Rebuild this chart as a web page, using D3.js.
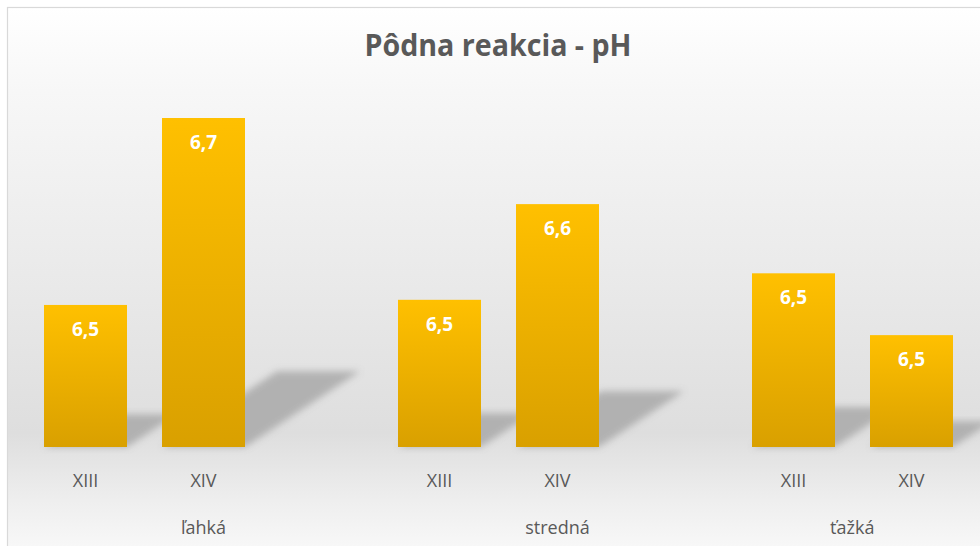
<!DOCTYPE html>
<html><head><meta charset="utf-8">
<script src="https://cdn.jsdelivr.net/npm/d3@7"></script>
<style>html,body{margin:0;padding:0;background:#fff;overflow:hidden}</style>
</head><body>
<svg id="c" width="980" height="546"></svg>
<script>
const title = "Pôdna reakcia - pH";
const groups = ["ľahká", "stredná", "ťažká"];
const subcats = ["XIII", "XIV"];
const valuesXIII = [6.493, 6.50, 6.536];
const valuesXIV = [6.747, 6.630, 6.452];
const yDomain = [6.3, 6.8];

const data = [];
groups.forEach((g, i) => {
  data.push({group: g, sub: "XIII", value: valuesXIII[i]});
  data.push({group: g, sub: "XIV", value: valuesXIV[i]});
});

const svg = d3.select("#c");
const defs = svg.append("defs");

const bg = defs.append("linearGradient").attr("id", "bg").attr("x1", 0).attr("y1", 0).attr("x2", 0).attr("y2", 1);
[[0, "#ffffff"], [0.15, "#f7f7f7"], [0.5, "#e9e9e9"], [0.76, "#dedede"], [0.88, "#eeeeee"], [1, "#fcfcfc"]]
  .forEach(([o, c]) => bg.append("stop").attr("offset", o).attr("stop-color", c));

const bar = defs.append("linearGradient").attr("id", "bar").attr("x1", 0).attr("y1", 0).attr("x2", 0).attr("y2", 1);
bar.append("stop").attr("offset", 0).attr("stop-color", "#ffc000");
bar.append("stop").attr("offset", 1).attr("stop-color", "#d9a000");

const blur = defs.append("filter").attr("id", "blur").attr("x", "-20%").attr("y", "-20%").attr("width", "140%").attr("height", "140%");
blur.append("feGaussianBlur").attr("stdDeviation", 3.5);

svg.append("rect").attr("x", 7.5).attr("y", 7.5).attr("width", 990).attr("height", 560)
  .attr("fill", "url(#bg)").attr("stroke", "#d9d9d9").attr("stroke-width", 1.2);

const x0 = d3.scaleBand().domain(groups).range([26.5, 1088.5]);
const x1 = d3.scaleBand().domain(subcats).range([0, 236]).paddingInner(0.2966).paddingOuter(0.1483);
const y = d3.scaleLinear().domain(yDomain).range([447, 79]);

const loc = d3.formatLocale({decimal: ",", thousands: " ", grouping: [3], currency: ["", ""]});
const fmt = loc.format(".1f");

// shadows
svg.append("g").selectAll("polygon").data(data).join("polygon")
  .attr("points", d => {
    const xl = x0(d.group) + x1(d.sub), xr = xl + x1.bandwidth();
    const yb = y(yDomain[0]);
    const h = yb - y(d.value);
    const dx = 0.35 * h, dy = 0.23 * h;
    return [[xl, yb], [xr, yb], [xr + dx, yb - dy], [xl + dx, yb - dy]].map(p => p.join(",")).join(" ");
  })
  .attr("fill", "#a6a6a6").attr("opacity", 0.8).attr("filter", "url(#blur)");

// bars
svg.append("g").selectAll("rect").data(data).join("rect")
  .attr("x", d => x0(d.group) + x1(d.sub))
  .attr("y", d => y(d.value))
  .attr("width", x1.bandwidth())
  .attr("height", d => y(yDomain[0]) - y(d.value))
  .attr("fill", "url(#bar)");

// value labels
svg.append("g").selectAll("text").data(data).join("text")
  .attr("x", d => x0(d.group) + x1(d.sub) + x1.bandwidth() / 2)
  .attr("y", d => y(d.value) + 31)
  .attr("text-anchor", "middle")
  .attr("font-family", "'Open Sans', sans-serif").attr("font-weight", 700).attr("font-size", 19)
  .attr("fill", "#ffffff")
  .text(d => fmt(d.value));

// subcategory labels
svg.append("g").selectAll("text").data(data).join("text")
  .attr("x", d => x0(d.group) + x1(d.sub) + x1.bandwidth() / 2)
  .attr("y", 487)
  .attr("text-anchor", "middle")
  .attr("font-family", "'Open Sans', sans-serif").attr("font-size", 18)
  .attr("fill", "#595959")
  .text(d => d.sub);

// group labels centred on visible part of group band
const visL = 7, visR = 970;
svg.append("g").selectAll("text").data(groups).join("text")
  .attr("x", g => {
    const a = Math.max(visL, x0(g)), b = Math.min(visR, x0(g) + x0.bandwidth());
    return (a + b) / 2;
  })
  .attr("y", 534)
  .attr("text-anchor", "middle")
  .attr("font-family", "'Open Sans', sans-serif").attr("font-size", 18)
  .attr("fill", "#595959")
  .text(g => g);

svg.append("text").attr("x", 498).attr("y", 56).attr("text-anchor", "middle")
  .attr("font-family", "'Open Sans', sans-serif").attr("font-weight", 700).attr("font-size", 30)
  .attr("textLength", 267).attr("lengthAdjust", "spacingAndGlyphs")
  .attr("fill", "#595959").text(title);
</script>
</body></html>
